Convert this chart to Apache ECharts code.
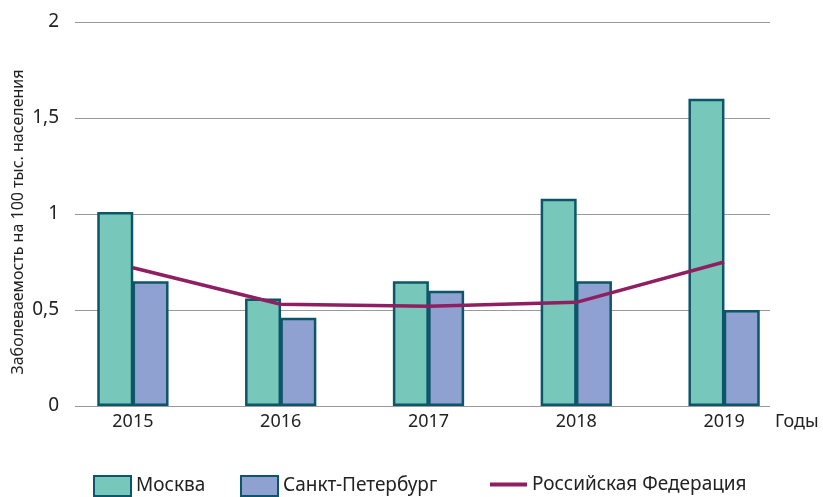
<!DOCTYPE html>
<html>
<head>
<meta charset="utf-8">
<script src="https://cdn.jsdelivr.net/npm/echarts@6/dist/echarts.min.js"></script>
<style>
  html, body { margin: 0; padding: 0; background: #fff; }
  #chart { width: 823px; height: 497px; }
</style>
</head>
<body>
<div id="chart"></div>
<script>
// data
var years = ["2015", "2016", "2017", "2018", "2019"];
var moscow = [1.01, 0.56, 0.65, 1.08, 1.6];
var spb = [0.65, 0.46, 0.6, 0.65, 0.5];
var russia = [0.72, 0.53, 0.52, 0.54, 0.75];
var yTicks = [0, 0.5, 1, 1.5, 2];

var font = "Noto Sans";
var border = "#0d5569";
var legendText = { fontSize: 19, color: "#222", fontFamily: font };

var chart = echarts.init(document.getElementById("chart"));
chart.setOption({
  animation: false,
  textStyle: { fontFamily: font },
  grid: [
    // grid for split lines and y labels
    { left: 75, right: 53, top: 22, bottom: 91 },
    // grid for the marks
    { left: 59, right: 25, top: 22, bottom: 91 }
  ],
  graphic: [
    {
      type: "text",
      x: 18, y: 222,
      rotation: Math.PI / 2,
      style: {
        text: "Заболеваемость на 100 тыс. населения",
        fontSize: 16, fontFamily: font, fill: "#222",
        align: "center", verticalAlign: "middle"
      }
    }
  ],
  legend: [
    {
      left: 88, top: 470,
      itemWidth: 37, itemHeight: 20,
      icon: "rect",
      data: ["Москва"],
      textStyle: legendText
    },
    {
      left: 235, top: 470,
      itemWidth: 37, itemHeight: 20,
      icon: "rect",
      data: ["Санкт-Петербург"],
      textStyle: legendText
    },
    {
      left: 485, top: 470,
      itemWidth: 37, itemHeight: 4,
      icon: "rect",
      data: ["Российская Федерация"],
      textStyle: legendText
    }
  ],
  xAxis: [
    {
      gridIndex: 0,
      type: "category",
      data: years,
      axisLine: { show: false },
      axisTick: { show: false },
      axisLabel: { show: false },
      name: "Годы",
      nameGap: 5,
      nameTextStyle: { fontSize: 18, color: "#222", verticalAlign: "top", padding: [7, 0, 0, 0] }
    },
    {
      gridIndex: 1,
      type: "category",
      data: years,
      axisLine: { show: false },
      axisTick: { show: false },
      axisLabel: { fontSize: 18, color: "#222", margin: 7 }
    }
  ],
  yAxis: [
    {
      gridIndex: 0,
      type: "value",
      min: yTicks[0],
      max: yTicks[yTicks.length - 1],
      interval: 0.5,
      axisLine: { show: false },
      axisTick: { show: false },
      axisLabel: {
        fontSize: 19, color: "#222", margin: 16,
        formatter: function (v) { return String(v).replace(".", ","); }
      },
      splitLine: { lineStyle: { color: "#9a9a9a", width: 1.2 } }
    },
    {
      gridIndex: 1,
      type: "value",
      min: yTicks[0],
      max: yTicks[yTicks.length - 1],
      show: false
    }
  ],
  series: [
    {
      name: "Москва",
      type: "bar",
      xAxisIndex: 1, yAxisIndex: 1,
      data: moscow,
      barWidth: 36,
      barGap: "-2%",
      itemStyle: { color: "#77c8ba", borderColor: border, borderWidth: 2.5 }
    },
    {
      name: "Санкт-Петербург",
      type: "bar",
      xAxisIndex: 1, yAxisIndex: 1,
      data: spb,
      barWidth: 36,
      barGap: "-2%",
      itemStyle: { color: "#8ea1d1", borderColor: border, borderWidth: 2.5 }
    },
    {
      name: "Российская Федерация",
      type: "line",
      xAxisIndex: 1, yAxisIndex: 1,
      data: russia,
      symbol: "none",
      itemStyle: { color: "#8f1f60" },
      lineStyle: { color: "#8f1f60", width: 3.5 }
    }
  ]
});
</script>
</body>
</html>
